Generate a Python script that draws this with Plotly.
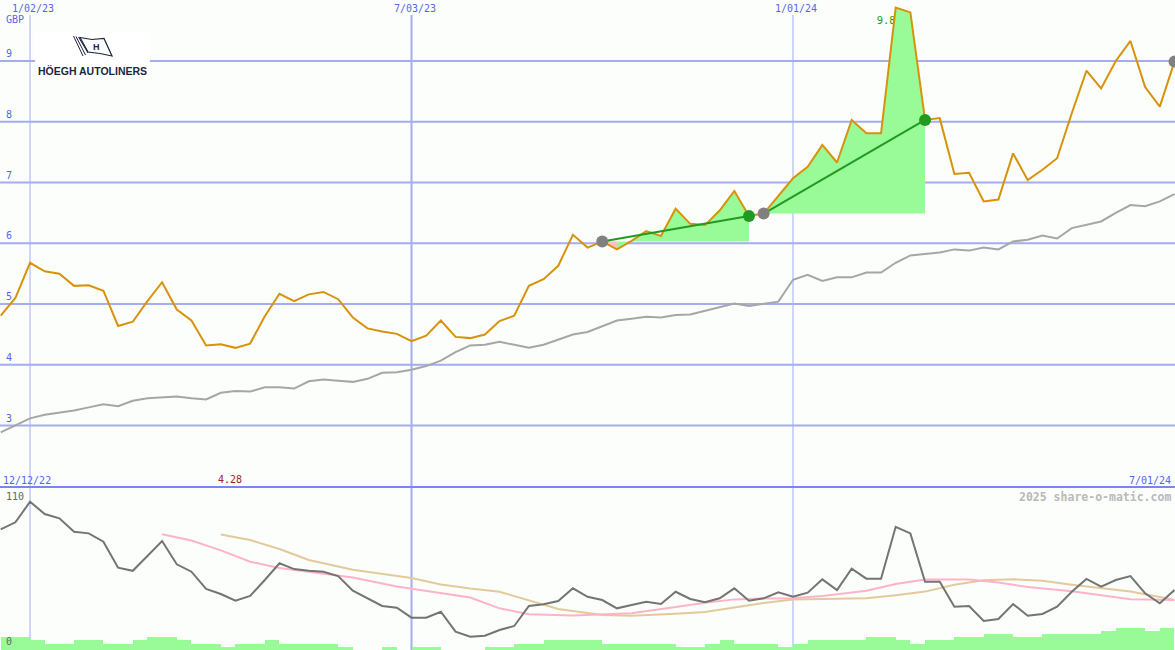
import plotly.graph_objects as go
import pandas as pd

W, H = 1175, 650

# ---------------- data ----------------
DATES = pd.date_range("2022-12-19", periods=81, freq="7D")

PRICE = [4.81, 5.10, 5.68, 5.54, 5.50, 5.30, 5.31, 5.22, 4.64, 4.71,
         5.05, 5.36, 4.91, 4.73, 4.32, 4.34, 4.28, 4.35, 4.80, 5.17,
         5.05, 5.16, 5.20, 5.08, 4.78, 4.60, 4.55, 4.51, 4.39, 4.48,
         4.73, 4.46, 4.44, 4.50, 4.72, 4.81, 5.30, 5.41, 5.63, 6.14,
         5.93, 6.03, 5.90, 6.04, 6.20, 6.12, 6.57, 6.32, 6.30, 6.54,
         6.86, 6.45, 6.49, 6.78, 7.07, 7.26, 7.62, 7.33, 8.03, 7.81,
         7.81, 9.88, 9.80, 8.03, 8.06, 7.14, 7.16, 6.69, 6.72, 7.48,
         7.04, 7.21, 7.40, 8.14, 8.84, 8.55, 9.00, 9.33, 8.57, 8.25,
         8.99]

RELATIVE = [2.89, 3.01, 3.12, 3.18, 3.21, 3.25, 3.30, 3.35, 3.32, 3.41,
            3.45, 3.46, 3.48, 3.45, 3.43, 3.54, 3.57, 3.56, 3.63, 3.63,
            3.61, 3.73, 3.76, 3.74, 3.72, 3.77, 3.87, 3.88, 3.92, 3.98,
            4.07, 4.21, 4.32, 4.33, 4.38, 4.33, 4.28, 4.33, 4.41, 4.50,
            4.54, 4.63, 4.73, 4.76, 4.79, 4.78, 4.82, 4.83, 4.89, 4.96,
            5.01, 4.97, 5.00, 5.04, 5.40, 5.48, 5.38, 5.44, 5.44, 5.52,
            5.52, 5.68, 5.80, 5.83, 5.85, 5.90, 5.88, 5.93, 5.90, 6.03,
            6.06, 6.13, 6.08, 6.25, 6.31, 6.36, 6.50, 6.63, 6.61, 6.69,
            6.81]

OSC = [90.1, 95.4, 111.0, 101.7, 98.4, 88.2, 87.0, 80.7, 61.0, 58.6,
       69.8, 81.2, 63.5, 57.9, 44.8, 41.0, 35.9, 39.5, 51.6, 64.3,
       59.9, 58.6, 57.9, 54.6, 43.5, 37.7, 31.9, 30.6, 23.0, 23.0,
       27.5, 12.4, 8.6, 9.3, 13.7, 16.7, 31.9, 33.2, 35.7, 45.3,
       38.9, 36.4, 30.1, 32.6, 35.1, 33.4, 42.7, 37.2, 34.7, 37.7,
       45.3, 35.9, 37.7, 42.3, 38.9, 42.0, 52.1, 44.0, 60.2, 52.6,
       52.6, 92.0, 87.0, 50.3, 50.3, 31.3, 31.9, 20.5, 22.0, 33.4,
       24.5, 25.8, 31.3, 42.7, 52.4, 46.5, 51.6, 54.6, 41.5, 33.9,
       44.0]

PINK_IDX = [11, 13, 15, 17, 19, 21, 24, 27, 30, 32, 34, 36, 39, 41, 43,
            46, 48, 50, 52, 54, 56, 59, 61, 63, 66, 68, 70, 73, 75, 77, 80]
PINK_VALUES = [86.3, 81.6, 74.1, 65.5, 60.7, 57.7, 53.5, 46.7, 41.7, 38.3,
               30.1, 25.6, 24.6, 25.6, 26.3, 31.1, 34.4, 36.9, 37.6, 37.7,
               39.5, 43.4, 48.6, 52.0, 52.0, 49.7, 46.3, 43.0, 40.2, 37.0,
               36.4]

TAN_IDX = [15, 17, 19, 21, 24, 26, 28, 30, 32, 34, 36, 38, 41, 43, 46,
           48, 50, 52, 54, 57, 59, 61, 63, 65, 67, 69, 71, 73, 75, 77, 79, 80]
TAN_VALUES = [86.1, 81.9, 75.1, 66.8, 59.4, 56.0, 53.1, 48.2, 45.1, 42.7,
              36.0, 29.6, 25.0, 24.5, 25.9, 27.3, 30.7, 34.1, 36.8, 37.0,
              37.7, 40.1, 42.8, 48.0, 51.4, 52.2, 51.0, 48.0, 45.2, 42.9,
              38.7, 36.4]

VOLUME = [4, 4, 3, 2, 2, 3, 3, 2, 2, 3, 4, 4, 3, 2, 2, 1, 2, 2, 3, 2,
          2, 2, 2, 1, 0, 0, 1, 0, 1, 1, 0, 0, 0, 1, 1, 2, 2, 3, 3, 3,
          3, 2, 2, 2, 2, 2, 1, 1, 2, 3, 2, 2, 2, 1, 2, 3, 3, 3, 3, 4,
          4, 3, 2, 3, 3, 4, 4, 5, 5, 4, 4, 5, 5, 5, 5, 6, 7, 7, 6, 7]

TRENDS = [(41, 51), (52, 63)]          # start / end indices of the highlighted runs
LAST_IDX = 80
MIN_IDX = 16
MAX_IDX = 61

PRICE_TICKS = [3, 4, 5, 6, 7, 8, 9]
DATE_LINES = ["2023-01-02", "2023-07-03", "2024-01-01"]
DATE_LINE_LABELS = ["1/02/23", "7/03/23", "1/01/24"]
START_LABEL = "12/12/22"
END_LABEL = "7/01/24"

# ---------------- styling ----------------
BG = "#fbfefb"
GRID = "#a3adf0"
SEP = "#7a86ef"
BLUE_TXT = "#5565ee"
ORANGE = "#d8920a"
GREY = "#a6a6a6"
DARK = "#747474"
PINK = "#ffb3c9"
TAN = "#e3ca9c"
PALE = "#98fb98"
GREEN = "#229a22"
MONO = "DejaVu Sans Mono"

X0 = pd.Timestamp("2022-12-18 16:00")
X1 = pd.Timestamp("2024-07-01 06:00")


def px(x):
    return x / W


def py(y):
    return 1 - y / H


TOP_SPLIT = 487
dom_split = py(TOP_SPLIT)

fig = go.Figure()

# volume bars (bottom panel, base axis)
fig.add_trace(go.Bar(x=DATES[:len(VOLUME)], y=VOLUME, yaxis="y2",
                     offset=0, width=7 * 24 * 3600 * 1000,
                     marker=dict(color=PALE, line=dict(width=0)),
                     hoverinfo="skip", showlegend=False))

# bottom panel lines
fig.add_trace(go.Scatter(x=[DATES[i] for i in TAN_IDX], y=TAN_VALUES, yaxis="y3",
                         mode="lines", line=dict(color=TAN, width=2), showlegend=False))
fig.add_trace(go.Scatter(x=[DATES[i] for i in PINK_IDX], y=PINK_VALUES, yaxis="y3",
                         mode="lines", line=dict(color=PINK, width=2), showlegend=False))
fig.add_trace(go.Scatter(x=DATES, y=OSC, yaxis="y3", mode="lines",
                         line=dict(color=DARK, width=2), showlegend=False))

# max label (drawn beneath the fills, so the peak partly hides it)
fig.add_trace(go.Scatter(x=[DATES[MAX_IDX]], y=[PRICE[MAX_IDX]], mode="markers+text",
                         marker=dict(size=12, opacity=0),
                         text=[f"{PRICE[MAX_IDX]:.2f}\u00a0\u00a0"],
                         textposition="bottom center",
                         textfont=dict(family=MONO, size=10.5, color=GREEN),
                         showlegend=False, hoverinfo="skip"))

# highlighted runs
for s, e in TRENDS:
    base = PRICE[s]
    xs = list(DATES[s:e + 1]) + [DATES[e], DATES[s]]
    ys = PRICE[s:e + 1] + [base, base]
    fig.add_trace(go.Scatter(x=xs, y=ys, mode="lines", fill="toself",
                             fillcolor=PALE, line=dict(width=0),
                             showlegend=False, hoverinfo="skip"))
    for i in range(s, e):
        if PRICE[i + 1] < base:
            fig.add_trace(go.Scatter(
                x=[DATES[i], DATES[i + 1], DATES[i + 1], DATES[i]],
                y=[PRICE[i], PRICE[i + 1], base, base],
                mode="lines", fill="toself", fillcolor="#ffc0cb",
                line=dict(width=0), showlegend=False, hoverinfo="skip"))

# relative line and price
fig.add_trace(go.Scatter(x=DATES, y=RELATIVE, mode="lines",
                         line=dict(color=GREY, width=2), showlegend=False))
fig.add_trace(go.Scatter(x=DATES, y=PRICE, mode="lines",
                         line=dict(color=ORANGE, width=2), showlegend=False))

# trend lines and markers
for s, e in TRENDS:
    fig.add_trace(go.Scatter(x=[DATES[s], DATES[e]], y=[PRICE[s], PRICE[e]],
                             mode="lines", line=dict(color=GREEN, width=2),
                             showlegend=False))
start_idx = [s for s, _ in TRENDS] + [LAST_IDX]
end_idx = [e for _, e in TRENDS]
fig.add_trace(go.Scatter(x=[DATES[i] for i in start_idx], y=[PRICE[i] for i in start_idx],
                         mode="markers", marker=dict(color="#808080", size=12),
                         showlegend=False))
fig.add_trace(go.Scatter(x=[DATES[i] for i in end_idx], y=[PRICE[i] for i in end_idx],
                         mode="markers", marker=dict(color=GREEN, size=12),
                         showlegend=False))

shapes = []
# horizontal grid
for v in PRICE_TICKS:
    shapes.append(dict(type="line", xref="paper", yref="y", x0=0, x1=1, y0=v, y1=v,
                       line=dict(color=GRID, width=2), layer="below"))
# vertical date lines
for d, wdt in zip(DATE_LINES, [1, 2, 1]):
    shapes.append(dict(type="line", xref="x", yref="paper", x0=d, x1=d,
                       y0=0, y1=py(15), line=dict(color=GRID, width=wdt), layer="below"))
# separator
shapes.append(dict(type="line", xref="paper", yref="paper", x0=0, x1=1,
                   y0=dom_split, y1=dom_split, line=dict(color=SEP, width=2)))

# logo
shapes.append(dict(type="rect", xref="paper", yref="paper",
                   x0=px(35), x1=px(150), y0=py(80), y1=py(31),
                   fillcolor="#ffffff", line=dict(width=0), layer="above"))


def path(points, close=True):
    s = "M " + " L ".join(f"{px(x):.5f},{py(y):.5f}" for x, y in points)
    return s + (" Z" if close else "")


shapes.append(dict(type="path", xref="paper", yref="paper",
                   path=path([(80, 37.5), (92, 39.5), (104, 38.5), (112, 56),
                              (100, 53.5), (88, 52)]),
                   fillcolor="#ffffff", line=dict(color="#1c2540", width=1.2)))
for (xa, ya), (xb, yb) in [((73.5, 36), (83, 56)), ((76, 36.5), (85.5, 55)),
                           ((78.5, 37), (88, 53))]:
    shapes.append(dict(type="line", xref="paper", yref="paper",
                       x0=px(xa), y0=py(ya), x1=px(xb), y1=py(yb),
                       line=dict(color="#1c2540", width=1)))

ann = []


def text(x, y, s, color, size=10, xanchor="left", yanchor="middle", bold=False,
         family=MONO, xref="paper", yref="paper", xshift=0, yshift=0):
    ann.append(dict(x=x, y=y, xref=xref, yref=yref, text=(f"<b>{s}</b>" if bold else s),
                    showarrow=False, xanchor=xanchor, yanchor=yanchor,
                    font=dict(family=family, size=size, color=color),
                    xshift=xshift, yshift=yshift, borderpad=0))


text(px(96), py(47), "H", "#1c2540", size=9, xanchor="center", bold=True,
     family="Liberation Sans")
text(px(92.5), py(70.5), "HÖEGH AUTOLINERS", "#1c2540", size=10.5, xanchor="center",
     bold=True, family="Liberation Sans")

for d, lab in zip(DATE_LINES, DATE_LINE_LABELS):
    text(d, py(8), lab, BLUE_TXT, xanchor="center", xref="x", xshift=3)
text(px(5), py(19), "GBP", BLUE_TXT)
for v in PRICE_TICKS:
    text(px(5), v, str(v), BLUE_TXT, yref="y", yanchor="bottom", yshift=1)

text(px(2), py(480), START_LABEL, BLUE_TXT)
text(px(1172), py(480), END_LABEL, BLUE_TXT, xanchor="right")
text(DATES[MIN_IDX], py(479), f"{PRICE[MIN_IDX]:.2f}", "#a02424", xanchor="center",
     xref="x", xshift=-5)
text(px(1172), py(496.5), "2025 share-o-matic.com", "#b9b9b9", size=11.5,
     xanchor="right", bold=True)
text(px(5), py(496.5), "110", "#666666")
text(px(5), py(641.5), "0", "#666666")

fig.update_layout(
    width=W, height=H, margin=dict(l=0, r=0, t=0, b=0),
    paper_bgcolor=BG, plot_bgcolor=BG, showlegend=False,
    xaxis=dict(range=[X0, X1], visible=False, showgrid=False, zeroline=False, domain=[0, 1]),
    yaxis=dict(range=[1.99, 10.004], domain=[dom_split, 1], visible=False,
               showgrid=False, zeroline=False),
    yaxis2=dict(range=[0, 50.9], domain=[0, dom_split], visible=False,
                showgrid=False, zeroline=False, anchor="x"),
    yaxis3=dict(range=[-1.52, 122.2], domain=[0, dom_split], overlaying="y2",
                visible=False, showgrid=False, zeroline=False, anchor="x"),
    bargap=0, shapes=shapes, annotations=ann,
)

fig.write_html("out.html", config={"displayModeBar": False},
               post_script="document.body.style.margin='0';document.body.style.padding='0';")
